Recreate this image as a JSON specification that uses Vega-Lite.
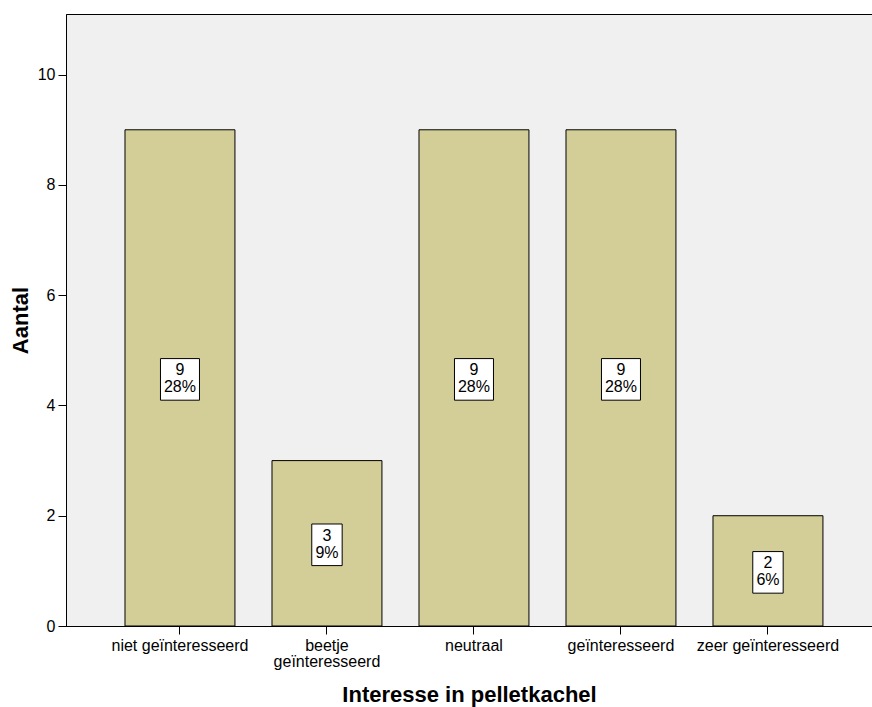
{
  "$schema": "https://vega.github.io/schema/vega-lite/v6.json",
  "width": 806,
  "height": 612,
  "autosize": {"type": "none"},
  "padding": {"left": 66, "top": 14, "right": 0, "bottom": 81},
  "background": "white",
  "config": {
    "font": "Liberation Sans",
    "view": {"fill": "#F0F0F0", "stroke": "black", "strokeWidth": 1},
    "axis": {
      "labelFont": "Liberation Sans",
      "titleFont": "Liberation Sans",
      "labelFontSize": 16,
      "labelColor": "black",
      "titleColor": "black",
      "titleFontSize": 22,
      "titleFontWeight": "bold",
      "domainColor": "black",
      "tickColor": "black",
      "tickSize": 8,
      "grid": false
    }
  },
  "data": {
    "values": [
      {"interesse": "niet geïnteresseerd", "aantal": 9, "pct": 0.28125},
      {"interesse": "beetje geïnteresseerd", "aantal": 3, "pct": 0.09375},
      {"interesse": "neutraal", "aantal": 9, "pct": 0.28125},
      {"interesse": "geïnteresseerd", "aantal": 9, "pct": 0.28125},
      {"interesse": "zeer geïnteresseerd", "aantal": 2, "pct": 0.0625}
    ]
  },
  "encoding": {
    "x": {
      "field": "interesse",
      "type": "nominal",
      "sort": null,
      "scale": {"paddingInner": 0.252, "paddingOuter": 0.3675, "align": 0.546},
      "axis": {
        "title": "Interesse in pelletkachel",
        "labelAngle": 0,
        "labelPadding": 3,
        "labelLineHeight": 16.5,
        "labelExpr": "datum.label == 'beetje geïnteresseerd' ? ['beetje', 'geïnteresseerd'] : datum.label",
        "titlePadding": 15,
        "domain": true
      }
    }
  },
  "layer": [
    {
      "mark": {"type": "bar", "fill": "#D3CE97", "stroke": "black", "strokeWidth": 1},
      "encoding": {
        "y": {
          "field": "aantal",
          "type": "quantitative",
          "scale": {"domain": [0, 11.1], "nice": false},
          "axis": {
            "title": "Aantal",
            "values": [0, 2, 4, 6, 8, 10],
            "labelPadding": 3,
            "titlePadding": 5
          }
        }
      }
    },
    {
      "layer": [
        {
          "mark": {"type": "point", "filled": true, "fill": "white", "stroke": "black", "strokeWidth": 1, "opacity": 1, "size": 1600, "yOffset": 1.5},
          "encoding": {
            "shape": {
              "condition": {"test": "datum.aantal >= 10 || datum.pct >= 0.1", "value": "M-0.975,-1.04H0.975V1.04H-0.975Z"},
              "value": "M-0.76,-1.04H0.76V1.04H-0.76Z"
            }
          }
        },
        {
          "mark": {"type": "text", "fontSize": 16, "dy": -9, "yOffset": 1.5, "color": "black", "font": "Liberation Sans"},
          "encoding": {"text": {"field": "aantal", "type": "quantitative"}}
        },
        {
          "mark": {"type": "text", "fontSize": 16, "dy": 8, "yOffset": 1.5, "color": "black", "font": "Liberation Sans"},
          "encoding": {"text": {"field": "pct", "type": "quantitative", "format": ".0%"}}
        }
      ],
      "encoding": {
        "y": {
          "field": "aantal",
          "type": "quantitative",
          "scale": {"domain": [0, 22.2], "nice": false},
          "axis": null
        }
      }
    }
  ],
  "resolve": {"scale": {"y": "independent"}}
}
